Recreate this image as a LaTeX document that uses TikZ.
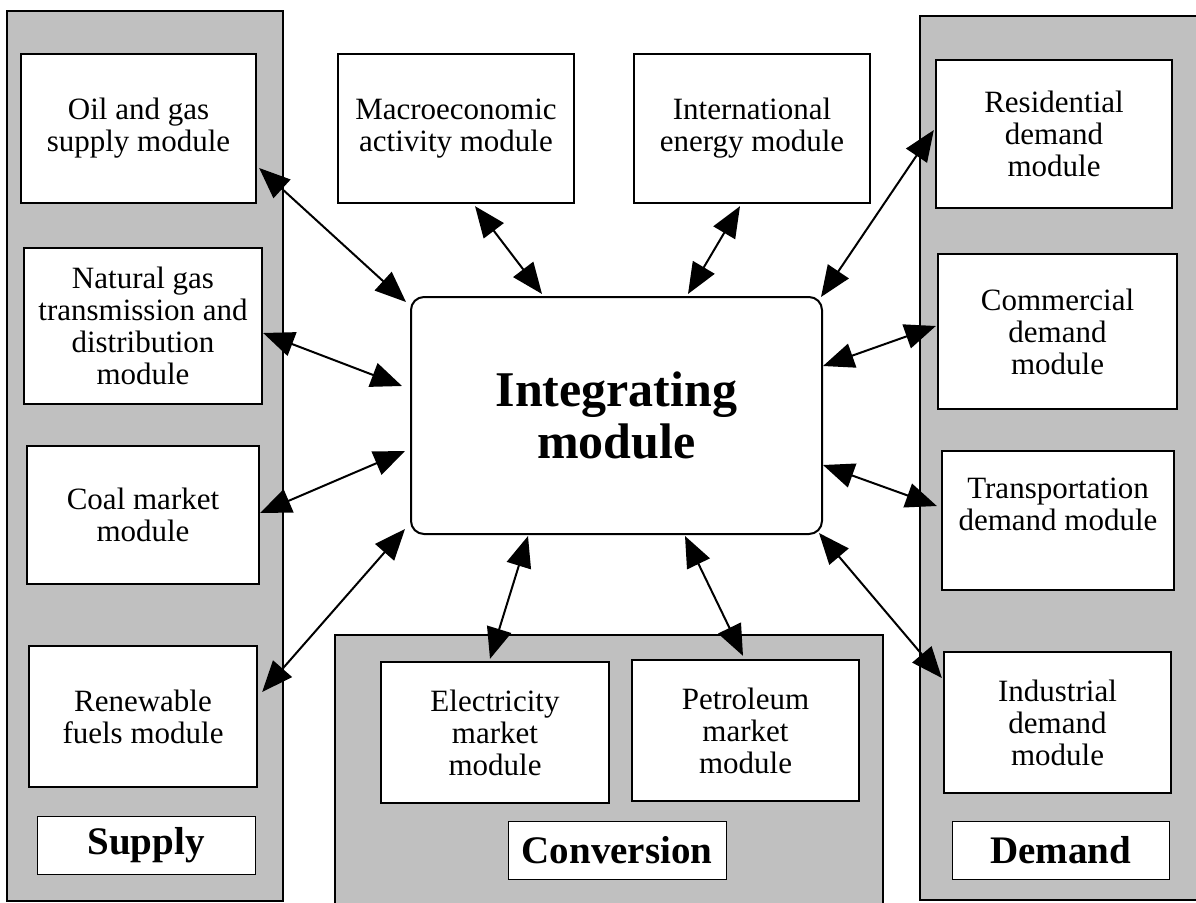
\documentclass[tikz,border=0pt]{standalone}
\usepackage{fontspec}
\setmainfont{Liberation Serif}
\usetikzlibrary{calc,arrows.meta}
\definecolor{panelgray}{RGB}{192,192,192}
\newcommand{\modfont}{\fontsize{31}{32}\selectfont}
\newcommand{\tagfont}{\fontsize{39}{40}\selectfont\bfseries}
\newcommand{\hubfont}{\fontsize{50}{52}\selectfont\bfseries}

\begin{document}
\begin{tikzpicture}[x=1pt,y=-1pt,
  panel/.style={draw, line width=2pt, fill=panelgray},
  module/.style={draw, line width=2.3pt, fill=white, align=center, inner sep=0pt, font=\modfont},
  tag/.style={draw, line width=1pt, fill=white, inner sep=0pt, minimum width=218pt, minimum height=58pt, font=\tagfont},
  hub/.style={draw, line width=2pt, rounded corners=13pt, fill=white, align=center, font=\hubfont},
  link/.style={line width=2pt, {Triangle[length=31pt,width=25pt]}-{Triangle[length=31pt,width=25pt]}}]
\useasboundingbox (0,0) rectangle (1196,902);

%panels
\draw[panel] (7,11) rectangle (283,901);
\draw[panel] (920,16) rectangle (1205,900);
\draw[panel] (335,635) rectangle (883,910);

%supply
\node[module, minimum width=235pt, minimum height=149pt] (oil) at (138.5,128.5) {Oil and gas\\supply module};
\node[module, minimum width=238pt, minimum height=156pt] (natgas) at (143,326) {Natural gas\\transmission and\\distribution\\module};
\node[module, minimum width=232pt, minimum height=138pt] (coal) at (143,515) {Coal market\\module};
\node[module, minimum width=228pt, minimum height=141pt] (renew) at (143,716.5) {Renewable\\fuels module};
\node[tag] (supply) at (146,845) {Supply};

%top row
\node[module, minimum width=236pt, minimum height=149pt] (macro) at (456,128.5) {Macroeconomic\\activity module};
\node[module, minimum width=236pt, minimum height=149pt] (intl) at (752,128.5) {International\\energy module};

%demand
\node[module, minimum width=236pt, minimum height=148pt] (resid) at (1054,134) {Residential\\demand\\module};
\node[module, minimum width=239pt, minimum height=155pt] (comm) at (1057.5,331.5) {Commercial\\demand\\module};
\node[module, minimum width=232pt, minimum height=139pt] (trans) at (1058,520.5) {Transportation\\demand module\\\mbox{}};
\node[module, minimum width=227pt, minimum height=141pt] (indus) at (1057.5,722.5) {Industrial\\demand\\module};
\node[tag, minimum width=217pt] (demand) at (1060.5,850) {Demand};

%conversion
\node[module, minimum width=228pt, minimum height=141pt] (elec) at (495,732.5) {Electricity\\market\\module};
\node[module, minimum width=227pt, minimum height=141pt] (petro) at (745.5,730.5) {Petroleum\\market\\module};
\node[tag] (conv) at (617,850) {Conversion};

%center
\node[hub, minimum width=411pt, minimum height=237pt] (integ) at (616.5,415.5) {Integrating\\module};

%links
\draw[link] ($(oil.east)+(2,39.5)$) -- ($(integ.north west)+(-4,6)$);
\draw[link] ($(natgas.east)+(0,7)$) -- ($(integ.west)+(-8,-29.5)$);
\draw[link] ($(coal.east)+(0,-2)$) -- ($(integ.west)+(-5,35.5)$);
\draw[link] ($(renew.east)+(4,-24.5)$) -- ($(integ.south west)+(-5,-6)$);
\draw[link] ($(macro.south)+(19,2)$) -- ($(integ.north)+(-74.5,-2)$);
\draw[link] ($(intl.south)+(-12,2)$) -- ($(integ.north)+(71.5,-2)$);
\draw[link] ($(resid.west)+(-1,-4)$) -- ($(integ.north east)+(-2,1)$);
\draw[link] ($(comm.west)+(-1,-5.5)$) -- ($(integ.east)+(0,-49.5)$);
\draw[link] ($(trans.west)+(-4,-14.5)$) -- ($(integ.east)+(0,49.5)$);
\draw[link] ($(indus.west)+(-1,-44.5)$) -- ($(integ.south east)+(-4,-2)$);
\draw[link] ($(elec.north)+(-5,-2)$) -- ($(integ.south)+(-88.5,1)$);
\draw[link] ($(petro.north)+(-2.5,-3)$) -- ($(integ.south)+(68.5,1)$);

\end{tikzpicture}
\end{document}
